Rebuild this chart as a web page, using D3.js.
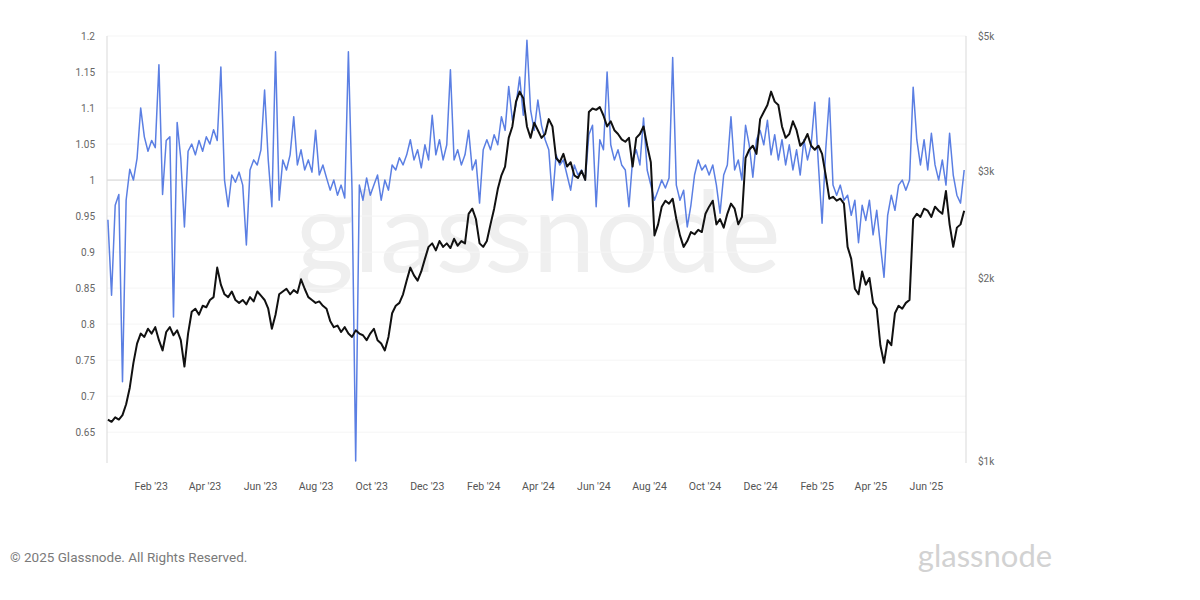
<!DOCTYPE html>
<html>
<head>
<meta charset="utf-8">
<script src="https://cdn.jsdelivr.net/npm/d3@7"></script>
<style>
  html, body { margin: 0; padding: 0; background: #fff; }
  svg { display: block; }
</style>
</head>
<body>
<svg id="chart" width="1200" height="600"></svg>
<script>
// ---- data ----
const seriesStart = "2022-12-16";   // first sample date
const stepDays = 4;                  // one sample every 4 days

// blue: ratio (left axis)
const ratioValues = [
  0.945,0.84,0.965,0.98,0.72,0.972,1.015,1.0,1.03,1.10,
  1.06,1.04,1.055,1.045,1.16,0.98,1.055,1.06,0.81,1.08,
  1.03,0.935,1.04,1.05,1.035,1.055,1.04,1.06,1.05,1.07,
  1.055,1.157,1.0,0.963,1.007,0.997,1.011,0.993,0.91,1.014,
  1.028,1.021,1.042,1.125,1.028,0.963,1.178,0.972,1.028,1.014,
  1.035,1.088,1.021,1.042,1.014,1.028,1.011,1.069,1.007,1.021,
  1.003,0.986,1.0,0.979,0.993,0.975,1.178,0.986,0.61,0.993,
  0.972,1.003,0.979,0.993,1.007,0.972,1.0,0.986,1.021,1.014,
  1.031,1.021,1.035,1.056,1.028,1.042,1.017,1.049,1.028,1.09,
  1.035,1.056,1.028,1.049,1.153,1.028,1.042,1.021,1.035,1.069,
  1.014,1.028,0.968,1.042,1.056,1.042,1.063,1.049,1.088,1.069,
  1.13,1.083,1.104,1.143,1.09,1.194,1.097,1.069,1.111,1.076,
  1.056,1.042,0.972,1.035,1.021,1.028,1.007,0.986,1.021,1.007,
  1.014,1.0,1.063,1.076,0.963,1.056,1.042,1.15,1.049,1.028,
  1.042,1.021,1.014,0.963,1.028,1.042,1.021,1.086,1.014,0.993,
  0.972,0.986,1.0,0.989,1.003,1.17,0.993,0.972,0.986,0.935,
  0.965,1.007,1.028,1.014,1.021,1.007,1.021,0.993,0.954,1.007,
  1.021,1.088,1.014,1.028,1.0,1.076,1.049,1.004,1.056,1.069,
  1.049,1.083,1.035,1.063,1.028,1.056,1.021,1.049,1.014,1.042,
  1.007,1.056,1.028,1.049,1.108,1.021,0.94,1.042,1.114,0.993,
  0.979,0.993,0.972,0.979,0.951,0.972,0.913,0.965,0.944,0.972,
  0.924,0.958,0.91,0.865,0.951,0.979,0.958,0.993,1.0,0.986,
  1.0,1.129,1.056,1.021,1.056,1.014,1.065,1.021,1.0,1.028,
  0.993,1.065,1.007,0.979,0.968,1.014
];

// black: price in USD (right axis, log)
const priceValues = [
  1170,1160,1180,1170,1190,1240,1320,1450,1560,1620,
  1600,1650,1620,1660,1580,1520,1630,1660,1610,1640,
  1580,1430,1620,1760,1780,1740,1800,1790,1840,1860,
  2080,1950,1880,1860,1900,1840,1820,1840,1810,1860,
  1830,1900,1870,1840,1780,1650,1740,1880,1900,1920,
  1880,1910,1890,1990,1920,1860,1840,1820,1830,1800,
  1780,1700,1660,1670,1630,1660,1620,1600,1640,1620,
  1610,1580,1620,1650,1580,1560,1520,1600,1750,1800,
  1820,1880,1980,2080,2020,1980,2050,2150,2250,2280,
  2220,2300,2250,2280,2240,2320,2260,2300,2280,2550,
  2600,2500,2280,2250,2300,2450,2600,2800,2950,3050,
  3400,3550,3900,4050,3950,3550,3400,3600,3500,3400,
  3450,3650,3550,3150,3100,3200,3050,3100,2950,2920,
  3000,2900,3750,3800,3780,3820,3700,3550,3620,3500,
  3450,3380,3350,3400,3050,3400,3450,3550,3300,3100,
  2350,2450,2620,2680,2650,2700,2500,2350,2250,2300,
  2380,2360,2400,2380,2550,2620,2680,2450,2500,2420,
  2550,2650,2600,2450,2520,3150,3250,3300,3200,3650,
  3750,3850,4050,3900,3850,3550,3400,3450,3620,3500,
  3300,3350,3450,3300,3250,3300,3200,2950,2700,2720,
  2680,2700,2650,2250,2150,1920,1880,2050,1950,2000,
  1820,1780,1550,1450,1580,1550,1750,1800,1780,1820,
  1840,2500,2550,2520,2600,2580,2520,2620,2580,2550,
  2780,2450,2250,2420,2450,2580
];

const leftTicks = [0.65,0.7,0.75,0.8,0.85,0.9,0.95,1,1.05,1.1,1.15,1.2];
const rightTicks = [1000,2000,3000,5000];
const rightTickLabels = ["$1k","$2k","$3k","$5k"];
const xTickDates = ["2023-02-01","2023-04-01","2023-06-01","2023-08-01","2023-10-01","2023-12-01",
  "2024-02-01","2024-04-01","2024-06-01","2024-08-01","2024-10-01","2024-12-01",
  "2025-02-01","2025-04-01","2025-06-01"];
const xDomain = ["2022-12-15","2025-07-15"];
const leftDomain = [0.61, 1.2];
const rightDomain = [1000, 5000];

// ---- build ----
const parse = d3.utcParse("%Y-%m-%d");
const t0 = parse(seriesStart);
const dateAt = i => d3.utcDay.offset(t0, i * stepDays);
const ratio = ratioValues.map((v, i) => ({ date: dateAt(i), v }));
const price = priceValues.map((v, i) => ({ date: dateAt(i), v }));

const svg = d3.select("#chart");
const L = 107, R = 966, T = 36, B = 461;

const x = d3.scaleUtc().domain(xDomain.map(parse)).range([L, R]);
const yL = d3.scaleLinear().domain(leftDomain).range([B, T]);
const yR = d3.scaleLog().domain(rightDomain).range([B, T]);

// watermark
svg.append("text")
  .attr("x", 538).attr("y", 272)
  .attr("text-anchor", "middle")
  .attr("font-family", "Lato, 'Open Sans', sans-serif")
  .attr("font-size", 112)
  .attr("fill", "#efefef")
  .text("glassnode");

// faint gridlines
svg.append("g").selectAll("line").data(leftTicks.filter(d => d !== 1)).join("line")
  .attr("x1", L).attr("x2", R)
  .attr("y1", d => yL(d)).attr("y2", d => yL(d))
  .attr("stroke", "#f5f5f5").attr("stroke-width", 1);

// reference line at 1
svg.append("line")
  .attr("x1", L).attr("x2", R)
  .attr("y1", yL(1)).attr("y2", yL(1))
  .attr("stroke", "#cfcfcf").attr("stroke-width", 1);

// axes lines
svg.append("line").attr("x1", L).attr("x2", L).attr("y1", T).attr("y2", B + 2)
  .attr("stroke", "#d9d9d9");
svg.append("line").attr("x1", R).attr("x2", R).attr("y1", T).attr("y2", B + 2)
  .attr("stroke", "#d9d9d9");

// left axis
const axL = d3.axisLeft(yL).tickValues(leftTicks).tickSize(0).tickPadding(12)
  .tickFormat(d => d3.format("")(+d.toFixed(2)));
const gL = svg.append("g").attr("transform", `translate(${L},0)`).call(axL);
gL.select(".domain").remove();
gL.selectAll("text").attr("font-family", "Roboto, 'Open Sans', sans-serif")
  .attr("font-size", 10).attr("fill", "#666");

// right axis
const axR = d3.axisRight(yR).tickValues(rightTicks).tickSize(0).tickPadding(12)
  .tickFormat((d, i) => rightTickLabels[i]);
const gR = svg.append("g").attr("transform", `translate(${R},0)`).call(axR);
gR.select(".domain").remove();
gR.selectAll("text").attr("font-family", "Roboto, 'Open Sans', sans-serif")
  .attr("font-size", 10).attr("fill", "#666");

// x axis
const axX = d3.axisBottom(x).tickValues(xTickDates.map(parse)).tickSize(0).tickPadding(22)
  .tickFormat(d3.utcFormat("%b '%y"));
const gX = svg.append("g").attr("transform", `translate(0,${B})`).call(axX);
gX.select(".domain").remove();
gX.selectAll("text").attr("font-family", "Roboto, 'Open Sans', sans-serif")
  .attr("font-size", 10.5).attr("fill", "#555");

// lines
svg.append("path").datum(ratio)
  .attr("fill", "none").attr("stroke", "#5b7fe3").attr("stroke-width", 1.5)
  .attr("stroke-linejoin", "round")
  .attr("d", d3.line().x(d => x(d.date)).y(d => yL(d.v)));

svg.append("path").datum(price)
  .attr("fill", "none").attr("stroke", "#111").attr("stroke-width", 2)
  .attr("stroke-linejoin", "round")
  .attr("d", d3.line().x(d => x(d.date)).y(d => yR(d.v)));

// footer
svg.append("text").attr("x", 10).attr("y", 562)
  .attr("font-family", "Roboto, 'Open Sans', sans-serif").attr("font-size", 13.5)
  .attr("fill", "#7a7a7a").text("© 2025 Glassnode. All Rights Reserved.");
svg.append("text").attr("x", 985).attr("y", 567).attr("text-anchor", "middle")
  .attr("font-family", "Lato, 'Open Sans', sans-serif").attr("font-size", 31)
  .attr("fill", "#d2d2d2").text("glassnode");
</script>
</body>
</html>
